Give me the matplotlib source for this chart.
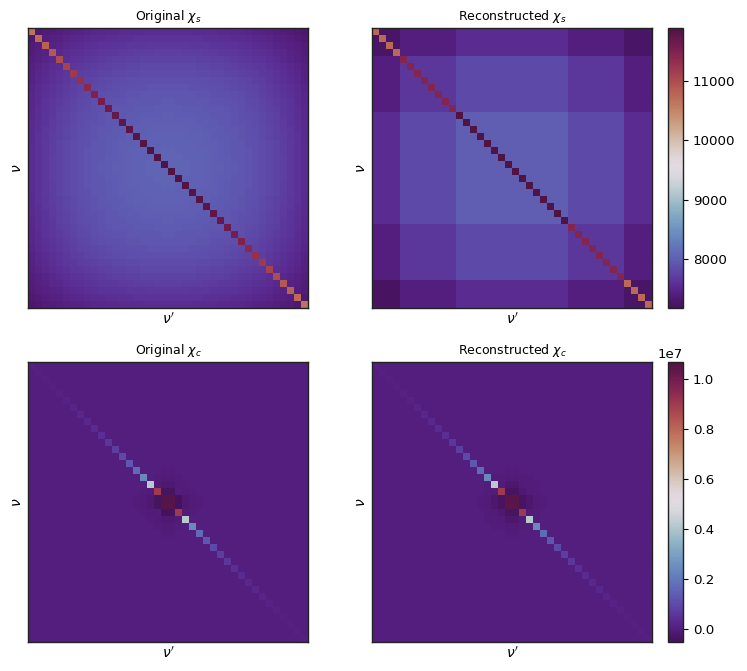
import matplotlib
matplotlib.use("Agg")
import matplotlib.pyplot as plt
from matplotlib.colors import ListedColormap
import numpy as np

# chi_s original, background of the top-left quadrant (rest is mirrored)
chi_s_quadrant = [
    [7300,7330,7355,7380,7402,7422,7442,7460,7475,7488,7500,7510,7518,7525,7532,7538,7542,7545,7548,7550],
    [7330,7364,7392,7420,7444,7467,7489,7509,7526,7541,7554,7565,7574,7582,7590,7597,7601,7604,7608,7610],
    [7355,7392,7422,7453,7479,7504,7528,7550,7569,7584,7599,7611,7621,7630,7638,7645,7650,7654,7658,7660],
    [7380,7420,7453,7486,7515,7541,7567,7591,7611,7628,7644,7657,7668,7677,7686,7694,7699,7703,7707,7710],
    [7402,7444,7479,7515,7546,7575,7603,7628,7649,7668,7685,7699,7710,7720,7730,7738,7744,7748,7752,7755],
    [7422,7467,7504,7542,7575,7604,7634,7661,7683,7703,7721,7735,7747,7758,7768,7777,7783,7788,7792,7795],
    [7442,7490,7529,7568,7603,7634,7665,7694,7717,7738,7757,7772,7785,7796,7807,7816,7822,7827,7832,7835],
    [7460,7509,7550,7591,7627,7660,7693,7722,7747,7768,7788,7804,7818,7829,7840,7850,7857,7862,7867,7870],
    [7475,7526,7569,7611,7648,7682,7716,7747,7773,7795,7815,7832,7846,7858,7869,7880,7886,7892,7897,7900],
    [7488,7540,7584,7628,7666,7701,7736,7768,7794,7817,7838,7855,7869,7881,7894,7904,7911,7916,7922,7925],
    [7500,7554,7599,7644,7684,7720,7756,7788,7815,7838,7860,7878,7892,7905,7918,7928,7936,7941,7946,7950],
    [7510,7565,7611,7657,7698,7734,7771,7804,7832,7856,7878,7896,7911,7924,7937,7948,7955,7961,7966,7970],
    [7518,7574,7620,7667,7708,7746,7783,7817,7845,7869,7892,7910,7925,7938,7951,7963,7970,7976,7981,7985],
    [7525,7582,7630,7677,7719,7757,7795,7829,7858,7882,7905,7924,7939,7953,7966,7977,7985,7991,7996,8000],
    [7532,7590,7639,7687,7729,7768,7807,7841,7870,7895,7919,7938,7953,7967,7980,7992,8000,8005,8011,8015],
    [7538,7596,7645,7694,7736,7775,7814,7850,7879,7904,7928,7947,7963,7976,7990,8002,8009,8015,8021,8025],
    [7542,7602,7651,7700,7743,7783,7822,7858,7887,7913,7937,7956,7972,7986,8000,8011,8019,8025,8031,8035],
    [7545,7604,7654,7703,7747,7787,7826,7862,7892,7917,7941,7961,7977,7991,8004,8016,8024,8030,8036,8040],
    [7548,7607,7657,7707,7750,7790,7830,7866,7896,7922,7946,7965,7981,7995,8009,8021,8029,8035,8041,8045],
    [7550,7610,7660,7710,7754,7794,7834,7870,7900,7926,7950,7970,7986,8000,8014,8026,8034,8040,8046,8050],
]
chi_s_diag = [10650,10720,10800,10900,11000,11100,11200,11300,11400,11500,
              11580,11650,11710,11760,11800,11830,11860,11880,11890,11900]

# chi_s reconstructed: coarse blocks
block_sizes = [4, 8, 16, 8, 4]
chi_s_blocks = [
    [7260, 7400, 7550, 7400, 7250],
    [7400, 7650, 7800, 7650, 7400],
    [7550, 7800, 8000, 7800, 7550],
    [7400, 7650, 7800, 7650, 7400],
    [7230, 7400, 7550, 7400, 7260],
]
chi_s_blocks_diag = [10750, 11450, 11900, 11450, 10750]

# chi_c, in units of 1e7
chi_c_diag = [0.007,0.008,0.009,0.011,0.013,0.016,0.020,0.025,0.030,0.035,
              0.045,0.060,0.075,0.100,0.130,0.170,0.240,0.420,0.900,1.050]
chi_c_rec_diag = [0.007,0.008,0.009,0.011,0.013,0.016,0.020,0.025,0.030,0.035,
                  0.045,0.060,0.075,0.100,0.130,0.170,0.240,0.420,0.900,1.040]
chi_c_background = 0.005
chi_c_rec_background = 0.006
# indices 15..24 around the centre
chi_c_patch = [
    [0.005,0.005,0.004,0.003,0.000,0.000,0.003,0.004,0.005,0.005],
    [0.005,0.004,0.003,0.000,-0.005,-0.005,0.000,0.003,0.004,0.005],
    [0.004,0.003,0.002,-0.004,-0.015,-0.015,-0.004,0.002,0.003,0.004],
    [0.003,0.000,-0.004,0.000,-0.040,-0.040,0.000,-0.004,0.000,0.003],
    [0.000,-0.005,-0.015,-0.040,1.050,1.050,-0.045,-0.015,-0.005,0.000],
    [0.000,-0.005,-0.015,-0.040,1.050,1.050,-0.045,-0.015,-0.005,0.000],
    [0.003,0.000,-0.004,0.000,-0.045,-0.045,0.000,-0.004,0.000,0.003],
    [0.004,0.003,0.002,-0.004,-0.015,-0.015,-0.004,0.002,0.003,0.004],
    [0.005,0.004,0.003,0.000,-0.005,-0.005,0.000,0.003,0.004,0.005],
    [0.005,0.005,0.004,0.003,0.000,0.000,0.003,0.004,0.005,0.005],
]
chi_c_rec_patch = [
    [0.006,0.005,0.004,0.003,0.001,0.001,0.003,0.004,0.005,0.006],
    [0.005,0.004,0.002,0.000,-0.006,-0.006,0.000,0.002,0.004,0.005],
    [0.004,0.002,0.000,-0.006,-0.018,-0.018,-0.006,0.000,0.002,0.004],
    [0.003,0.000,-0.006,0.000,-0.036,-0.036,-0.012,-0.006,0.000,0.003],
    [0.001,-0.006,-0.018,-0.036,1.040,1.040,-0.040,-0.018,-0.006,0.001],
    [0.001,-0.006,-0.018,-0.036,1.040,1.040,-0.040,-0.018,-0.006,0.001],
    [0.003,0.000,-0.006,-0.012,-0.040,-0.040,0.000,-0.006,0.000,0.003],
    [0.004,0.002,0.000,-0.006,-0.018,-0.018,-0.006,0.000,0.002,0.004],
    [0.005,0.004,0.002,0.000,-0.006,-0.006,0.000,0.002,0.004,0.005],
    [0.006,0.005,0.004,0.003,0.001,0.001,0.003,0.004,0.005,0.006],
]

S_MIN, S_MAX = 7170, 11900
C_MIN, C_MAX = -0.05e7, 1.066e7
S_TICKS = [8000, 9000, 10000, 11000]
C_TICKS = [0.0, 0.2e7, 0.4e7, 0.6e7, 0.8e7, 1.0e7]
N = 40
PATCH_START = 15

# the reference's bar stops short of the very dark ends of twilight_shifted
CMAP = ListedColormap(plt.get_cmap("twilight_shifted")(np.linspace(0.06, 0.93, 256)))


def mirror_diag(half):
    return np.concatenate([half, half[::-1]])


def chi_s_original():
    q = np.array(chi_s_quadrant, dtype=float)
    top = np.hstack([q, q[:, ::-1]])
    mat = np.vstack([top, top[::-1]])
    np.fill_diagonal(mat, mirror_diag(chi_s_diag))
    return mat


def chi_s_reconstructed():
    mat = np.block([[np.full((r, c), float(chi_s_blocks[i][j]))
                     for j, c in enumerate(block_sizes)]
                    for i, r in enumerate(block_sizes)])
    np.fill_diagonal(mat, np.repeat(chi_s_blocks_diag, block_sizes))
    return mat


def chi_c_matrix(background, patch, diag):
    mat = np.full((N, N), background)
    p = np.array(patch)
    mat[PATCH_START:PATCH_START + len(p), PATCH_START:PATCH_START + len(p)] = p
    np.fill_diagonal(mat, mirror_diag(diag))
    return mat * 1e7


W, H = 747, 671


def px_axes(fig, x0, y0, x1, y1):
    return fig.add_axes([x0 / W, 1 - y1 / H, (x1 - x0) / W, (y1 - y0) / H])


def draw_panel(ax, mat, title, vmin, vmax):
    im = ax.imshow(mat, cmap=CMAP, vmin=vmin, vmax=vmax,
                   aspect="auto", interpolation="nearest")
    ax.set_xticks([])
    ax.set_yticks([])
    ax.set_title(title, fontsize=9, pad=6)
    ax.set_xlabel(r"$\nu'$", fontsize=10, labelpad=3)
    ax.set_ylabel(r"$\nu$", fontsize=10, labelpad=3)
    for spine in ax.spines.values():
        spine.set_linewidth(1.0)
        spine.set_color("#222222")
    return im


fig = plt.figure(figsize=(W / 100, H / 100), dpi=100)

ax1 = px_axes(fig, 28, 28, 308, 308)
ax2 = px_axes(fig, 372, 28, 652, 308)
ax3 = px_axes(fig, 28, 362, 308, 642)
ax4 = px_axes(fig, 372, 362, 652, 642)
cax1 = px_axes(fig, 668, 28, 683, 308)
cax2 = px_axes(fig, 668, 362, 683, 642)

draw_panel(ax1, chi_s_original(), r"Original $\chi_s$", S_MIN, S_MAX)
im_s = draw_panel(ax2, chi_s_reconstructed(), r"Reconstructed $\chi_s$", S_MIN, S_MAX)
draw_panel(ax3, chi_c_matrix(chi_c_background, chi_c_patch, chi_c_diag),
           r"Original $\chi_c$", C_MIN, C_MAX)
im_c = draw_panel(ax4, chi_c_matrix(chi_c_rec_background, chi_c_rec_patch, chi_c_rec_diag),
                  r"Reconstructed $\chi_c$", C_MIN, C_MAX)

cb1 = fig.colorbar(im_s, cax=cax1, ticks=S_TICKS)
cb2 = fig.colorbar(im_c, cax=cax2, ticks=C_TICKS)
for cb in (cb1, cb2):
    cb.ax.tick_params(labelsize=9.6, length=3.5, width=0.8)
    cb.outline.set_linewidth(1.0)
    cb.outline.set_edgecolor("#222222")
cb2.ax.yaxis.get_offset_text().set_fontsize(9.6)

fig.savefig("out.png", dpi=100)
